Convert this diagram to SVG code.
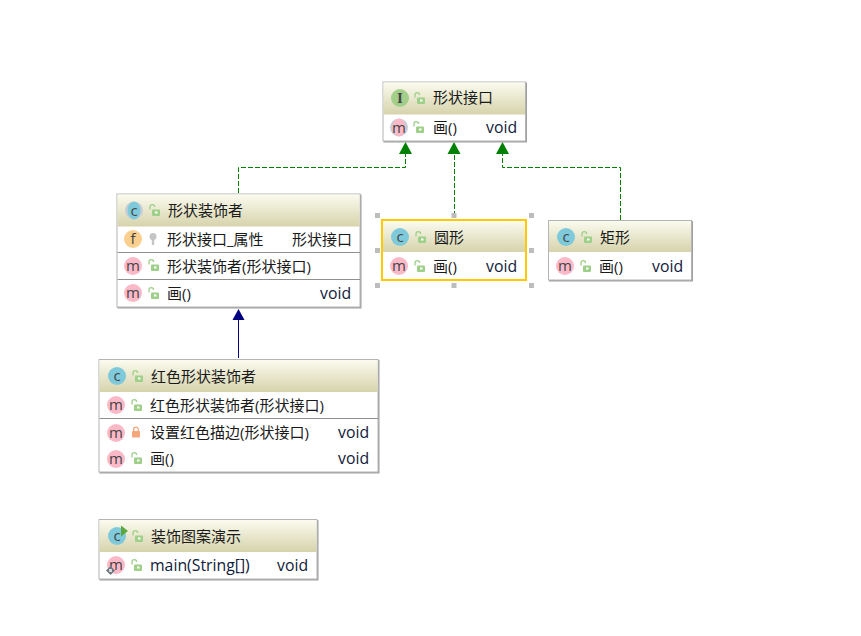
<svg xmlns="http://www.w3.org/2000/svg" width="861" height="636" viewBox="0 0 861 636">
<style>
text{font-family:"Open Sans","Noto Sans CJK SC","Noto Sans",sans-serif;font-size:15px;fill:#1a1a1a}
.l{font-size:15.800px;fill:#10203a}
.box{fill:#fff;stroke:#b4b4b4;stroke-width:1;filter:url(#sh)}
.sel{fill:#fff;stroke:#ffc800;stroke-width:2}
.div{stroke:#8f8f8f;stroke-width:1}
.dash{fill:none;stroke:#008000;stroke-width:1;stroke-dasharray:5 2}
.solid{fill:none;stroke:#000080;stroke-width:1}
.ic{font-size:15px;text-anchor:middle;fill:#444}
.h{fill:#bdbdbd}
</style>
<defs>
<filter id="sh" x="-5%" y="-5%" width="110%" height="110%"><feDropShadow dx="1" dy="1" stdDeviation="0.6" flood-color="#888" flood-opacity="0.8"/></filter>
<linearGradient id="hd" x1="0" y1="0" x2="0" y2="1"><stop offset="0" stop-color="#fbfbf0"/><stop offset="1" stop-color="#d6d3ab"/></linearGradient>
<g id="lock"><rect x="-2" y="-0.500" width="8" height="6.500" rx="1" fill="#9fd089"/><path d="M-4 -0.500v-2.500a2.300 2.300 0 0 1 4.600 0" fill="none" stroke="#9fd089" stroke-width="1.300"/><rect x="1" y="1.500" width="2.500" height="2" fill="#fff"/></g>
<g id="priv"><rect x="-4" y="-1" width="8" height="6.500" rx="1" fill="#f5a67a"/><path d="M-2.300 -1v-1.500a2.300 2.300 0 0 1 4.600 0v1.500" fill="none" stroke="#f5a67a" stroke-width="1.300"/></g>
<g id="key"><circle cx="0" cy="-2.500" r="3.500" fill="#c4c4c4"/><rect x="-1.200" y="-1" width="2.400" height="7" fill="#c4c4c4"/></g>
<g id="m"><circle r="9" fill="#fbb9c8"/><text class="ic" y="5">m</text></g>
<g id="c"><circle r="9" fill="#7ecadb"/><text class="ic" y="5">c</text></g>
</defs>
<rect width="861" height="636" fill="#fff"/>
<g id="connectors">
<path class="dash" d="M238.500 193V167.500H405.500V153"/>
<path class="dash" d="M454.500 216V153"/>
<path class="dash" d="M620.500 220V167.500H502.500V153"/>
<path d="M405.500 142L412 154H399z" fill="#008000"/>
<path d="M454 142L460.500 154H447.500z" fill="#008000"/>
<path d="M502.500 142L509 154H496z" fill="#008000"/>
<path class="solid" d="M238.500 358V320"/>
<path d="M238.500 309L244.500 320H232.500z" fill="#000080"/>
</g>
<g id="node-interface">
<rect class="box" x="383" y="82" width="142.500" height="59"/>
<rect x="383.500" y="82.500" width="141.500" height="32" fill="url(#hd)"/>
<circle cx="400" cy="98" r="9" fill="#a3cf8b"/><text class="ic" x="400" y="103" style="font-family:'Liberation Serif',serif;font-weight:bold">I</text>
<use href="#lock" x="419" y="98"/>
<text x="433" y="103">形状接口</text>
<circle cx="399" cy="127.500" r="9" fill="#c8ccd4"/><ellipse cx="399" cy="127.500" rx="6.500" ry="9" fill="#fbb9c8"/><text class="ic" x="399" y="132.500">m</text>
<use href="#lock" x="418" y="127"/>
<text x="433" y="133">画()</text>
<text class="l" x="486" y="133">void</text>
</g>
<g id="node-decorator">
<rect class="box" x="117" y="194" width="243" height="113"/>
<rect x="117.500" y="194.500" width="242" height="32" fill="url(#hd)"/>
<circle cx="134" cy="210.500" r="9" fill="#c8ccd4"/><ellipse cx="134" cy="210.500" rx="6.500" ry="9" fill="#7ecadb"/><text class="ic" x="134" y="215.500">c</text>
<use href="#lock" x="154" y="210"/>
<text x="168" y="216">形状装饰者</text>
<circle cx="133" cy="239" r="9" fill="#fbcf8e"/><text class="ic" x="133" y="244">f</text>
<use href="#key" x="153" y="239"/>
<text x="167" y="245">形状接口_属性</text>
<text x="292" y="245">形状接口</text>
<line class="div" x1="117.500" y1="252.500" x2="360" y2="252.500"/>
<use href="#m" x="133" y="266"/>
<use href="#lock" x="153" y="265"/>
<text x="167" y="272">形状装饰者(形状接口)</text>
<line class="div" x1="117.500" y1="279.500" x2="360" y2="279.500"/>
<use href="#m" x="133" y="293"/>
<use href="#lock" x="153" y="293"/>
<text x="167" y="299">画()</text>
<text class="l" x="320" y="299">void</text>
</g>
<g id="node-circle">
<rect class="sel" x="382" y="220" width="144" height="60"/>
<rect x="383" y="221" width="142" height="31" fill="url(#hd)"/>
<use href="#c" x="400" y="237"/>
<use href="#lock" x="420" y="237"/>
<text x="434" y="243">圆形</text>
<use href="#m" x="399" y="266"/>
<use href="#lock" x="419" y="266"/>
<text x="433" y="272">画()</text>
<text class="l" x="486" y="272">void</text>
<rect class="h" x="375" y="213" width="5" height="5"/><rect class="h" x="451.500" y="213" width="5" height="5"/><rect class="h" x="529" y="213" width="5" height="5"/>
<rect class="h" x="375" y="248" width="5" height="5"/><rect class="h" x="529" y="248" width="5" height="5"/>
<rect class="h" x="375" y="283" width="5" height="5"/><rect class="h" x="451.500" y="283" width="5" height="5"/><rect class="h" x="529" y="283" width="5" height="5"/>
</g>
<g id="node-rect">
<rect class="box" x="548.500" y="220.500" width="143" height="59.500"/>
<rect x="549" y="221" width="142" height="31" fill="url(#hd)"/>
<use href="#c" x="566" y="237"/>
<use href="#lock" x="586" y="237"/>
<text x="600" y="243">矩形</text>
<use href="#m" x="565" y="266"/>
<use href="#lock" x="585" y="266"/>
<text x="599" y="272">画()</text>
<text class="l" x="652" y="272">void</text>
</g>
<g id="node-red">
<rect class="box" x="99" y="359.500" width="279" height="112.500"/>
<rect x="99.500" y="360" width="278" height="32" fill="url(#hd)"/>
<use href="#c" x="117" y="376"/>
<use href="#lock" x="137" y="376"/>
<text x="151" y="382">红色形状装饰者</text>
<use href="#m" x="116" y="405"/>
<use href="#lock" x="136" y="405"/>
<text x="150" y="411">红色形状装饰者(形状接口)</text>
<line class="div" x1="99.500" y1="418.500" x2="378" y2="418.500"/>
<use href="#m" x="116" y="433"/>
<use href="#priv" x="136" y="432"/>
<text x="150" y="438">设置红色描边(形状接口)</text>
<text class="l" x="338" y="438">void</text>
<use href="#m" x="116" y="459"/>
<use href="#lock" x="136" y="458"/>
<text x="150" y="464">画()</text>
<text class="l" x="338" y="464">void</text>
</g>
<g id="node-main">
<rect class="box" x="99" y="519.500" width="218" height="59.500"/>
<rect x="99.500" y="520" width="217" height="32" fill="url(#hd)"/>
<use href="#c" x="117" y="536"/>
<path d="M121 525.500L128 531L121 536.500z" fill="#5ca83f"/>
<use href="#lock" x="137" y="536"/>
<text x="151" y="542">装饰图案演示</text>
<use href="#m" x="116" y="565"/>
<path d="M110.500 566L115 570.500L110.500 575L106 570.500z" fill="#6e7680"/><rect x="109" y="569" width="3" height="3" fill="#d8d8d8"/>
<use href="#lock" x="136" y="565"/>
<text class="l" x="150" y="571">main(String[])</text>
<text class="l" x="277" y="571">void</text>
</g>
</svg>
